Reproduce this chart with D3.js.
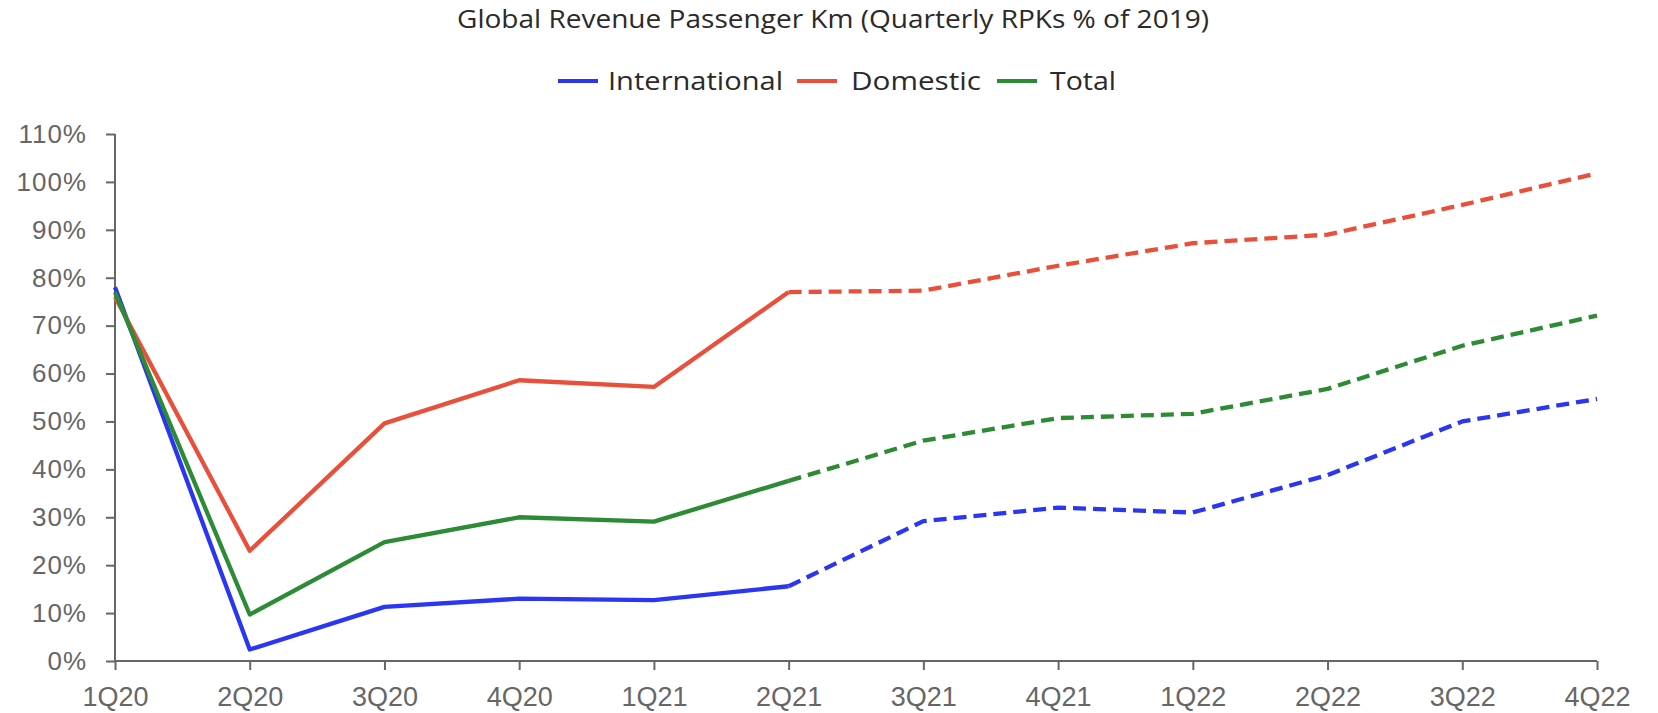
<!DOCTYPE html>
<html>
<head>
<meta charset="utf-8">
<script src="https://cdn.jsdelivr.net/npm/d3@7"></script>
<style>
  html, body { margin: 0; padding: 0; background: #fff; }
  svg { display: block; }
</style>
</head>
<body>
<svg id="chart" width="1658" height="713"></svg>
<script>
const categories = ["1Q20","2Q20","3Q20","4Q20","1Q21","2Q21","3Q21","4Q21","1Q22","2Q22","3Q22","4Q22"];
const international = [78, 2.4, 11.3, 13.0, 12.7, 15.6, 29.2, 32.0, 31.0, 38.8, 50.0, 54.7];
const domestic      = [76, 23.0, 49.6, 58.6, 57.2, 77.0, 77.3, 82.5, 87.2, 89.0, 95.2, 101.8];
const total         = [77, 9.7, 24.8, 30.0, 29.1, 37.6, 46.0, 50.7, 51.6, 56.8, 65.8, 72.1];
const actualUntil = "2Q21";
const yTicks = [0,10,20,30,40,50,60,70,80,90,100,110];
const seriesNames = ["International","Domestic","Total"];
const seriesColors = ["#2b36f2","#e8503c","#2d8a35"];

const svg = d3.select("#chart");
const margin = {left: 115, right: 61, top: 134, bottom: 52};
const W = 1658, H = 713;

const x = d3.scalePoint().domain(categories).range([margin.left, W - margin.right]);
const y = d3.scaleLinear().domain([0, 110]).range([H - margin.bottom, margin.top]);

// title
svg.append("text")
  .attr("x", 457).attr("y", 28)
  .attr("font-family", "'Open Sans', sans-serif")
  .attr("font-size", 26)
  .attr("fill", "#2a2a2a")
  .attr("textLength", 752)
  .attr("lengthAdjust", "spacingAndGlyphs")
  .text("Global Revenue Passenger Km (Quarterly RPKs % of 2019)");

// axes
const yAxis = svg.append("g")
  .attr("transform", `translate(${margin.left},0)`)
  .call(d3.axisLeft(y).tickValues(yTicks).tickFormat(d => d + "%").tickSize(9).tickPadding(19));
const xAxis = svg.append("g")
  .attr("transform", `translate(0,${H - margin.bottom})`)
  .call(d3.axisBottom(x).tickSize(9).tickPadding(17));

[yAxis, xAxis].forEach(g => {
  g.select(".domain").attr("stroke", "#666").attr("stroke-width", 2);
  g.selectAll(".tick line").attr("stroke", "#666").attr("stroke-width", 2);
  g.selectAll(".tick text")
    .attr("font-family", "'Liberation Sans', Arial, sans-serif")
    .attr("fill", "#666");
});
yAxis.selectAll(".tick text").attr("font-size", 26).attr("letter-spacing", 1);
xAxis.selectAll(".tick text").attr("font-size", 27);
xAxis.select(".domain").attr("d", `M${margin.left},0H${W - margin.right}`);
yAxis.select(".domain").attr("d", `M0,${y(110)}V${y(0)}`);

// lines
const splitIdx = categories.indexOf(actualUntil);
const data = [international, domestic, total];
const line = d3.line().x(d => x(d.c)).y(d => y(d.v));
data.forEach((vals, i) => {
  const pts = vals.map((v, j) => ({c: categories[j], v}));
  svg.append("path")
    .attr("d", line(pts.slice(0, splitIdx + 1)))
    .attr("fill", "none").attr("stroke", seriesColors[i])
    .attr("stroke-width", 4.3).attr("stroke-linejoin", "round");
  svg.append("path")
    .attr("d", line(pts.slice(splitIdx)))
    .attr("fill", "none").attr("stroke", seriesColors[i])
    .attr("stroke-width", 4.3).attr("stroke-linejoin", "round")
    .attr("stroke-dasharray", "13,7");
});

// legend
const legendItems = [
  {name: seriesNames[0], lx: 558, tx: 608, tw: 175},
  {name: seriesNames[1], lx: 797, tx: 851, tw: 130},
  {name: seriesNames[2], lx: 997, tx: 1050, tw: 66}
];
const lg = svg.append("g");
legendItems.forEach((it, i) => {
  lg.append("line").attr("x1", it.lx).attr("x2", it.lx + 40)
    .attr("y1", 81).attr("y2", 81)
    .attr("stroke", seriesColors[i]).attr("stroke-width", 4);
  lg.append("text").attr("x", it.tx).attr("y", 90)
    .attr("font-family", "'Open Sans', sans-serif")
    .attr("font-size", 26)
    .attr("fill", "#2a2a2a")
    .attr("textLength", it.tw)
    .attr("lengthAdjust", "spacingAndGlyphs")
    .text(it.name);
});
</script>
</body>
</html>
